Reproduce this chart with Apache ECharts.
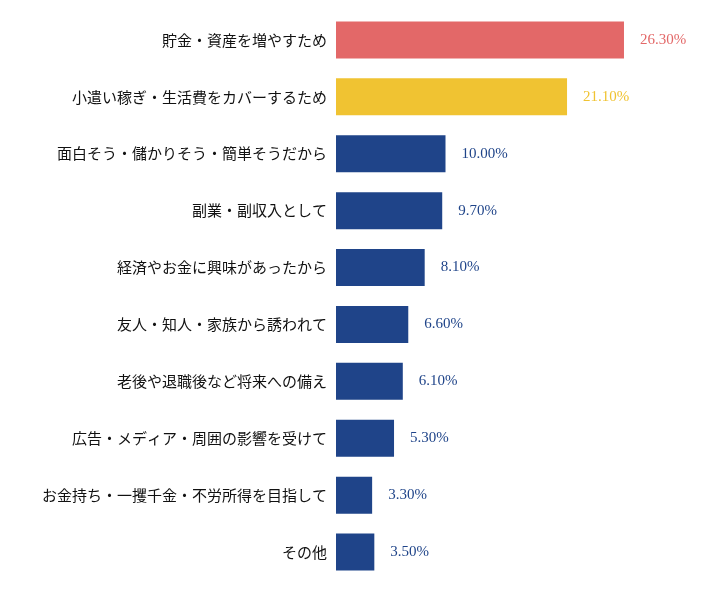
<!DOCTYPE html>
<html>
<head>
<meta charset="utf-8">
<script src="https://cdn.jsdelivr.net/npm/echarts@6/dist/echarts.min.js"></script>
<style>html,body{margin:0;padding:0;background:#fff}#chart{width:707px;height:598px}</style>
</head>
<body>
<div id="chart"></div>
<script>
const categories = [
  '貯金・資産を増やすため',
  '小遣い稼ぎ・生活費をカバーするため',
  '面白そう・儲かりそう・簡単そうだから',
  '副業・副収入として',
  '経済やお金に興味があったから',
  '友人・知人・家族から誘われて',
  '老後や退職後など将来への備え',
  '広告・メディア・周囲の影響を受けて',
  'お金持ち・一攫千金・不労所得を目指して',
  'その他'
];
const values = [26.3, 21.1, 10.0, 9.7, 8.1, 6.6, 6.1, 5.3, 3.3, 3.5];
const barColors = ['#E36868', '#F0C332', '#1F4489', '#1F4489', '#1F4489', '#1F4489', '#1F4489', '#1F4489', '#1F4489', '#1F4489'];

const chart = echarts.init(document.getElementById('chart'));
chart.setOption({
  animation: false,
  grid: { left: 336, right: 42.5, top: 11.5, bottom: 17.5 },
  xAxis: { type: 'value', min: 0, max: 30, show: false },
  yAxis: {
    type: 'category',
    inverse: true,
    data: categories,
    axisLine: { show: false },
    axisTick: { show: false },
    axisLabel: { margin: 9, color: '#111', fontSize: 15, fontFamily: 'Noto Sans CJK JP' }
  },
  series: [{
    type: 'bar',
    barWidth: 37,
    data: values.map((v, i) => ({ value: v, itemStyle: { color: barColors[i] } })),
    label: {
      show: true,
      position: 'right',
      distance: 16,
      fontSize: 15,
      fontFamily: 'Liberation Serif',
      formatter: p => p.value.toFixed(2) + '%',
      color: 'inherit'
    }
  }]
});
</script>
</body>
</html>
